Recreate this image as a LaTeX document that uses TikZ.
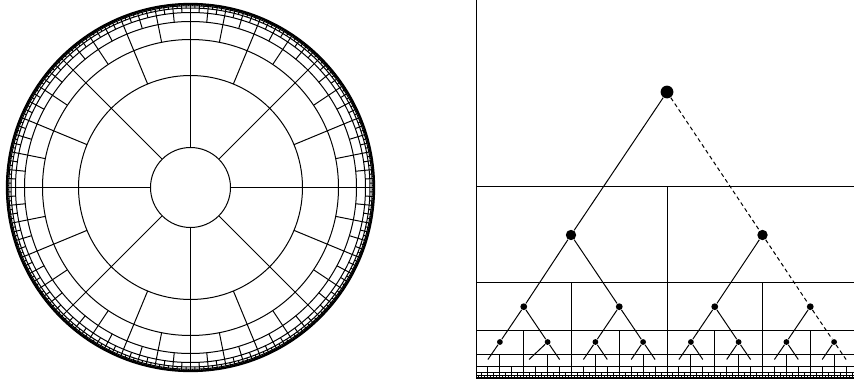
\documentclass[tikz,border=0pt]{standalone}
\begin{document}
\begin{tikzpicture}[x=1pt,y=-1pt,line width=1pt,
  dotA/.style={circle,fill=black,draw=none,inner sep=0pt,minimum size=12.8pt},
  dotB/.style={circle,fill=black,draw=none,inner sep=0pt,minimum size=10.4pt},
  dotC/.style={circle,fill=black,draw=none,inner sep=0pt,minimum size=6.8pt},
  dotD/.style={circle,fill=black,draw=none,inner sep=0pt,minimum size=5.8pt},
  edge/.style={line width=1pt},
  dedge/.style={line width=1pt,dash pattern=on 4pt off 3pt}]
\useasboundingbox (0,0) rectangle (854,383);
\clip (0,0) rectangle (854,383);
% ---------------- left disk ----------------
\begin{scope}[shift={(190.5,187.5)}]
  \foreach \k in {0,...,8}{
    \pgfmathsetmacro\rr{184-144/2^\k}
    \draw (0,0) circle[radius=\rr pt];
  }
  \draw[line width=1.3pt] (0,0) circle[radius=184pt];
  \foreach \j in {0,...,7}{
    \draw (\j*45:40pt) -- (\j*45:184pt);
  }
  \foreach \k in {1,...,7}{
    \pgfmathtruncatemacro\nn{8*2^(\k-1)-1}
    \pgfmathsetmacro\rs{184-144/2^\k}
    \pgfmathsetmacro\da{45/2^\k}
    \draw \foreach \m in {0,...,\nn}{ ({(2*\m+1)*\da}:\rs pt) -- ({(2*\m+1)*\da}:184pt) };
  }
\end{scope}
% ---------------- right panel grid ----------------
\draw (476,0) -- (476,378.5);
\foreach \k in {0,...,8}{
  \pgfmathsetmacro\hh{378.5-192/2^\k}
  \draw (476,\hh) -- (858,\hh);
}
\draw[line width=1.3pt] (476,378.5) -- (858,378.5);
\foreach \k in {1,...,8}{
  \pgfmathtruncatemacro\nn{2^(\k-1)-1}
  \pgfmathsetmacro\ht{378.5-192/2^(\k-1)}
  \pgfmathsetmacro\dx{382/2^\k}
  \draw \foreach \m in {0,...,\nn}{ ({476+(2*\m+1)*\dx},\ht) -- ({476+(2*\m+1)*\dx},378.5) };
}
% ---------------- tree ----------------
\node[dotA] (r) at (667,92) {};
\node[dotB] (a0) at (571,235) {};
\node[dotB] (a1) at (762.5,235) {};
\node[dotC] (b0) at (523.75,306.7) {};
\node[dotC] (b1) at (619.25,306.7) {};
\node[dotC] (b2) at (714.75,306.7) {};
\node[dotC] (b3) at (810.25,306.7) {};
\node[dotD] (c0) at (499.9,342) {};
\node[dotD] (c1) at (547.6,342) {};
\node[dotD] (c2) at (595.4,342) {};
\node[dotD] (c3) at (643.1,342) {};
\node[dotD] (c4) at (690.9,342) {};
\node[dotD] (c5) at (738.6,342) {};
\node[dotD] (c6) at (786.4,342) {};
\node[dotD] (c7) at (834.1,342) {};
\coordinate (d0) at (487.9,359.5);
\coordinate (d2) at (529,359.5);
\coordinate (d3) at (559.6,359.5);
\coordinate (d4) at (583.4,359.5);
\coordinate (d5) at (607.3,359.5);
\coordinate (d6) at (631.2,359.5);
\coordinate (d7) at (655.1,359.5);
\coordinate (d8) at (678.9,359.5);
\coordinate (d9) at (702.8,359.5);
\coordinate (d10) at (726.7,359.5);
\coordinate (d11) at (750.6,359.5);
\coordinate (d12) at (774.4,359.5);
\coordinate (d13) at (798.3,359.5);
\coordinate (d14) at (822.2,359.5);
\coordinate (d15) at (846.1,359.5);
\draw[edge] (r) -- (a0);
\draw[dedge] (r) -- (a1);
\draw[edge] (a0) -- (b0);
\draw[edge] (a0) -- (b1);
\draw[edge] (a1) -- (b2);
\draw[dedge] (a1) -- (b3);
\draw[edge] (b0) -- (c0);
\draw[edge] (b0) -- (c1);
\draw[edge] (b1) -- (c2);
\draw[edge] (b1) -- (c3);
\draw[edge] (b2) -- (c4);
\draw[edge] (b2) -- (c5);
\draw[edge] (b3) -- (c6);
\draw[dedge] (b3) -- (c7);
\draw[edge] (c0) -- (d0);
\draw[edge] (c1) -- (d2);
\draw[edge] (c1) -- (d3);
\draw[edge] (c2) -- (d4);
\draw[edge] (c2) -- (d5);
\draw[edge] (c3) -- (d6);
\draw[edge] (c3) -- (d7);
\draw[edge] (c4) -- (d8);
\draw[edge] (c4) -- (d9);
\draw[edge] (c5) -- (d10);
\draw[edge] (c5) -- (d11);
\draw[edge] (c6) -- (d12);
\draw[edge] (c6) -- (d13);
\draw[edge] (c7) -- (d14);
\draw[dedge] (c7) -- (d15);
\end{tikzpicture}
\end{document}
